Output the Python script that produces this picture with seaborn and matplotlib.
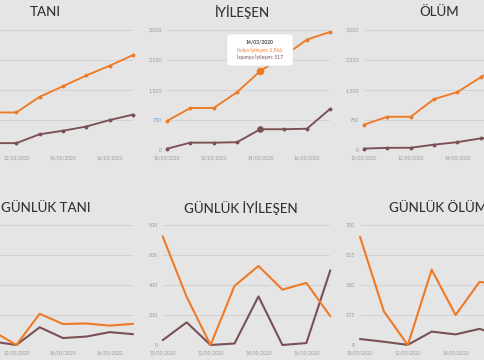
import matplotlib
matplotlib.use("Agg")
import matplotlib.pyplot as plt
import seaborn as sns
import pandas as pd
from matplotlib.patches import FancyBboxPatch
from matplotlib.ticker import FuncFormatter

# ---------------- data ----------------
tarihler = ["10/03/2020", "11/03/2020", "12/03/2020", "13/03/2020",
            "14/03/2020", "15/03/2020", "16/03/2020", "17/03/2020"]

italya_tani = [10149, 12462, 12462, 17660, 21157, 24747, 27980, 31506]
ispanya_tani = [1695, 2277, 2277, 5232, 6391, 7798, 9942, 11748]
italya_iyilesen = [724, 1045, 1045, 1439, 1966, 2335, 2749, 2941]
ispanya_iyilesen = [32, 183, 183, 193, 517, 517, 530, 1028]
italya_olum = [631, 827, 827, 1266, 1441, 1809, 2158, 2503]
ispanya_olum = [35, 54, 55, 133, 195, 289, 342, 533]

italya_gunluk_tani = [10149, 2313, 0, 5198, 3497, 3590, 3233, 3526]
ispanya_gunluk_tani = [1695, 582, 0, 2955, 1159, 1407, 2144, 1806]
italya_gunluk_iyilesen = [724, 321, 0, 394, 527, 369, 414, 192]
ispanya_gunluk_iyilesen = [32, 151, 0, 10, 324, 0, 13, 498]
italya_gunluk_olum = [631, 196, 0, 439, 175, 368, 349, 345]
ispanya_gunluk_olum = [35, 19, 1, 78, 62, 94, 53, 191]

basliklar = ["TANI", "İYİLEŞEN", "ÖLÜM", "GÜNLÜK TANI", "GÜNLÜK İYİLEŞEN", "GÜNLÜK ÖLÜM"]
y_ust = [40000, 3000, 3000, 20000, 800, 700]

tooltip_tarih = "14/03/2020"
tooltip_italya = "İtalya İyileşen: 1,966"
tooltip_ispanya = "İspanya İyileşen: 517"

# ---------------- style ----------------
sns.set_theme(style="white")
plt.rcParams["font.family"] = ["Lato", "DejaVu Sans"]

BG = "#e5e5e5"
GRID = "#d3d3d3"
ORANGE = "#ef7a26"
BROWN = "#7a5055"
TICK = "#9a9a9a"
TITLE = "#333333"

W, H = 485, 360
fig = plt.figure(figsize=(W / 100, H / 100), dpi=100)
fig.patch.set_facecolor(BG)

gun = list(range(len(tarihler)))
seriler = [
    (italya_tani, ispanya_tani),
    (italya_iyilesen, ispanya_iyilesen),
    (italya_olum, ispanya_olum),
    (italya_gunluk_tani, ispanya_gunluk_tani),
    (italya_gunluk_iyilesen, ispanya_gunluk_iyilesen),
    (italya_gunluk_olum, ispanya_gunluk_olum),
]

# pixel layout: (left, right, top, bottom)
kutular = [
    (-30.3, 133.0, 29.5, 150.0),
    (167.0, 330.3, 29.5, 150.0),
    (364.0, 527.3, 29.5, 150.0),
    (-30.3, 133.0, 225.0, 345.0),
    (162.7, 330.3, 225.0, 345.0),
    (360.0, 527.3, 225.0, 345.0),
]
baslik_y = [12, 12, 12, 208, 208, 208]


def fmt(v, p):
    return f"{int(round(v)):,}"


axes = []
for i, ((it, sp), (x0, x1, yt, yb)) in enumerate(zip(seriler, kutular)):
    ax = fig.add_axes([x0 / W, (H - yb) / H, (x1 - x0) / W, (yb - yt) / H])
    ax.set_facecolor(BG)
    df = pd.DataFrame({"gun": gun, "italya": it, "ispanya": sp})
    ust = i < 3
    kw = dict(marker="o", markersize=2.8, markeredgewidth=0) if ust else {}
    lw = 1.35 if ust else 1.5
    sns.lineplot(data=df, x="gun", y="ispanya", color=BROWN, linewidth=lw,
                 ax=ax, clip_on=False, **kw)
    sns.lineplot(data=df, x="gun", y="italya", color=ORANGE, linewidth=lw,
                 ax=ax, clip_on=False, **kw)
    top = y_ust[i]
    ax.set_ylim(0, top)
    ax.set_xlim(0, 7)
    ax.set_yticks([top * k / 4 for k in range(5)])
    ax.yaxis.set_major_formatter(FuncFormatter(fmt))
    ax.set_xticks([0, 2, 4, 6])
    ax.set_xticklabels([tarihler[k] for k in (0, 2, 4, 6)])
    ax.tick_params(axis="y", length=0, pad=3.6, labelsize=3.9, labelcolor=TICK)
    ax.tick_params(axis="x", length=0, pad=4.2, labelsize=3.4, labelcolor=TICK)
    ax.set_xlabel("")
    ax.set_ylabel("")
    ax.grid(axis="y", color=GRID, linewidth=0.7)
    ax.grid(axis="x", visible=False)
    for s in ax.spines.values():
        s.set_visible(False)
    ax.set_axisbelow(True)
    cx = (x0 + x1) / 2 - 6
    fig.text(cx / W, 1 - baslik_y[i] / H, basliklar[i], ha="center", va="center",
             fontsize=9.6, color=TITLE, fontweight="medium")
    axes.append(ax)

# hover state on İYİLEŞEN panel
ax = axes[1]
ax.plot([4], [italya_iyilesen[4]], "o", ms=5.5, color=ORANGE, mew=0, clip_on=False, zorder=5)
ax.plot([4], [ispanya_iyilesen[4]], "o", ms=4.8, color=BROWN, mew=0, clip_on=False, zorder=5)
for lbl in ax.get_yticklabels():
    if lbl.get_text() == "750":
        lbl.set_color("#6fa3d0")

bx0, bx1, by0, by1 = 227, 293, 34, 66
box = FancyBboxPatch((bx0 / W, 1 - by1 / H), (bx1 - bx0) / W, (by1 - by0) / H,
                     boxstyle="round,pad=0,rounding_size=0.008",
                     transform=fig.transFigure, facecolor="white",
                     edgecolor="#dddddd", linewidth=0.4, zorder=10)
fig.patches.append(box)
fig.text(260 / W, 1 - 41.5 / H, tooltip_tarih, ha="center", va="center",
         fontsize=3.6, color="#444444", fontweight="bold", zorder=11)
fig.text(260 / W, 1 - 49.7 / H, tooltip_italya, ha="center", va="center",
         fontsize=3.6, color=ORANGE, zorder=11)
fig.text(260 / W, 1 - 57.3 / H, tooltip_ispanya, ha="center", va="center",
         fontsize=3.6, color=BROWN, zorder=11)

# hide tick labels that fall completely outside the visible canvas
fig.canvas.draw()
rend = fig.canvas.get_renderer()
for ax in axes:
    for lbl in ax.get_xticklabels() + ax.get_yticklabels():
        bb = lbl.get_window_extent(rend)
        if bb.x1 <= 0 or bb.x0 >= W:
            lbl.set_visible(False)

fig.savefig("out.png", dpi=100, facecolor=BG)
